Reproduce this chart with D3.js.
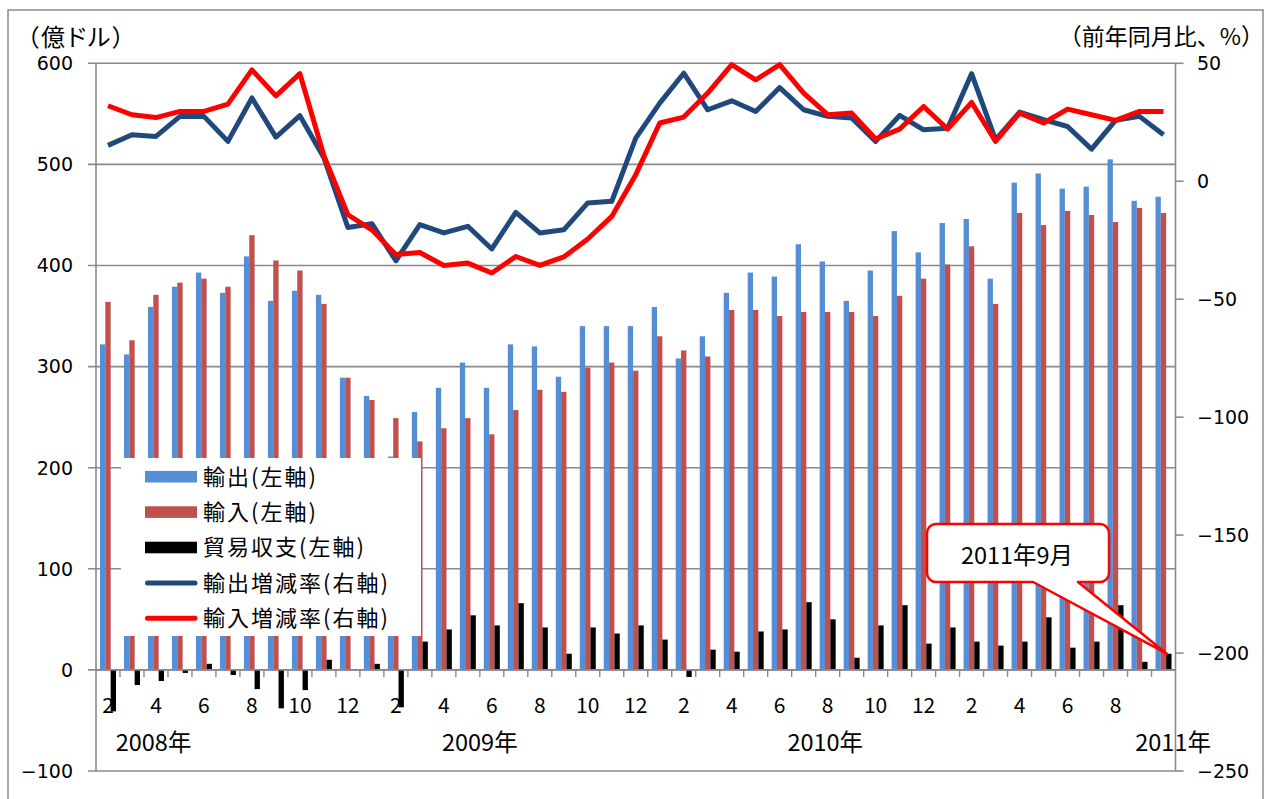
<!DOCTYPE html>
<html><head><meta charset="utf-8">
<script src="https://cdn.jsdelivr.net/npm/d3@7/dist/d3.min.js"></script>
<style>
body{margin:0;background:#fff}
svg{display:block}
text{font-family:"Noto Sans CJK JP","Noto Sans",sans-serif;fill:#000}
.num{font-family:"DejaVu Sans",sans-serif}
.palt{font-feature-settings:"palt"}
</style>
</head><body>
<svg id="c" width="1265" height="799"></svg>
<script>
// ---------------- data ----------------
const months = ["2008-01","2008-02","2008-03","2008-04","2008-05","2008-06","2008-07","2008-08","2008-09","2008-10","2008-11","2008-12",
"2009-01","2009-02","2009-03","2009-04","2009-05","2009-06","2009-07","2009-08","2009-09","2009-10","2009-11","2009-12",
"2010-01","2010-02","2010-03","2010-04","2010-05","2010-06","2010-07","2010-08","2010-09","2010-10","2010-11","2010-12",
"2011-01","2011-02","2011-03","2011-04","2011-05","2011-06","2011-07","2011-08","2011-09"];
const tickLabels = ["2","","4","","6","","8","","10","","12","",
"2","","4","","6","","8","","10","","12","",
"2","","4","","6","","8","","10","","12","",
"2","","4","","6","","8","",""];
const yearLabels = ["2008年","2009年","2010年","2011年"];
const exportsVal = [322,312,359,379,393,373,409,365,375,371,289,271,
211,255,279,304,279,322,320,290,340,340,340,359,
308,330,373,393,389,421,404,365,395,434,413,442,
446,387,482,491,476,478,505,464,468];
const importsVal = [364,326,371,383,387,379,430,405,395,362,289,267,
249,226,239,249,233,257,277,275,299,304,296,330,
316,310,356,356,350,354,354,354,350,370,387,401,
419,362,452,440,454,450,443,457,452];
const balanceVal = [-41,-15,-11,-3,6,-5,-19,-38,-20,10,0,6,
-37,28,40,54,44,66,42,16,42,36,44,30,
-7,20,18,38,40,67,50,12,44,64,26,42,
28,24,28,52,22,28,64,8,16];
const exportGrowth = [15.2,19.7,19.0,27.5,27.5,16.9,35.3,18.7,27.8,10.0,-19.6,-18.0,
-33.7,-18.4,-21.9,-19.1,-28.7,-13.2,-21.9,-20.6,-9.2,-8.5,18.3,33.1,
45.8,30.3,34.1,29.6,39.7,30.3,27.5,26.8,16.9,27.9,21.8,22.5,
45.6,17.6,29.3,26.1,23.2,13.6,25.8,27.5,19.7];
const importGrowth = [32.0,28.2,27.0,29.6,29.6,32.7,47.2,36.2,45.6,10.8,-14.2,-20.6,
-31.1,-30.2,-35.7,-34.7,-38.9,-31.9,-35.7,-32.1,-24.5,-14.9,2.8,24.7,
27.2,37.4,49.4,43.0,49.4,37.4,28.2,28.9,17.9,22.1,31.7,22.1,
33.4,16.9,28.9,24.7,30.6,28.2,25.8,29.6,29.6];
const leftTicks = [-100,0,100,200,300,400,500,600];
const rightTicks = [-250,-200,-150,-100,-50,0,50];
const seriesNames = ["輸出(左軸)","輸入(左軸)","貿易収支(左軸)","輸出増減率(右軸)","輸入増減率(右軸)"];
const calloutText = "2011年9月";
const leftTitle = "（億ドル）";
const rightTitle = "（前年同月比、%）";

// ---------------- layout ----------------
const L = 96, R = 1175.5, T = 63.3, B = 771;
const C = {exp:"#558ED5", imp:"#C0504D", bal:"#000000", expL:"#1F497D", impL:"#FF0000", grid:"#8a8a8a"};
const svg = d3.select("#c");

const x = d3.scaleBand().domain(months).range([L,R]).paddingInner(0.333).paddingOuter(0.1665);
const xs = d3.scaleBand().domain(["exp","imp","bal"]).range([0,x.bandwidth()]);
const yL = d3.scaleLinear().domain([-100,600]).range([B,T]);
const yR = d3.scaleLinear().domain([-250,50]).range([B,T]);
const step = x.step();
const cx = m => x(m) + x.bandwidth()/2;

// outer border
svg.append("rect").attr("x",8).attr("y",10).attr("width",1255).attr("height",800)
  .attr("fill","none").attr("stroke","#8c8c8c").attr("stroke-width",1.5);

// gridlines + left ticks
svg.append("g").selectAll("line").data(leftTicks).join("line")
  .attr("x1",L-8).attr("x2",R).attr("y1",d=>yL(d)).attr("y2",d=>yL(d))
  .attr("stroke",C.grid).attr("stroke-width",1.6);

// bars
const bars = [["exp",exportsVal],["imp",importsVal],["bal",balanceVal]];
bars.forEach(([k,vals])=>{
  svg.append("g").selectAll("rect").data(vals).join("rect")
    .attr("x",(d,i)=>x(months[i])+xs(k))
    .attr("width",xs.bandwidth())
    .attr("y",d=>Math.min(yL(d),yL(0)))
    .attr("height",d=>Math.abs(yL(d)-yL(0)))
    .attr("fill",C[k]);
});

// x axis line (at 0) and category tick marks
svg.append("line").attr("x1",L).attr("x2",R).attr("y1",yL(0)).attr("y2",yL(0))
  .attr("stroke",C.grid).attr("stroke-width",1.6);
svg.append("g").selectAll("line").data(months.slice(1)).join("line")
  .attr("x1",d=>x(d)-step*0.1665).attr("x2",d=>x(d)-step*0.1665)
  .attr("y1",yL(0)).attr("y2",yL(0)+7)
  .attr("stroke",C.grid).attr("stroke-width",1.4);

// left axis line and right axis line
svg.append("line").attr("x1",L).attr("x2",L).attr("y1",T).attr("y2",B).attr("stroke",C.grid).attr("stroke-width",1.6);
svg.append("line").attr("x1",R).attr("x2",R).attr("y1",T).attr("y2",B).attr("stroke",C.grid).attr("stroke-width",1.6);
svg.append("g").selectAll("line").data(rightTicks).join("line")
  .attr("x1",R).attr("x2",R+8).attr("y1",d=>yR(d)).attr("y2",d=>yR(d))
  .attr("stroke",C.grid).attr("stroke-width",1.6);

// lines
const lineGen = y => d3.line().x((d,i)=>cx(months[i])).y(d=>y(d));
svg.append("path").datum(exportGrowth).attr("d",lineGen(yR))
  .attr("fill","none").attr("stroke",C.expL).attr("stroke-width",5).attr("stroke-linejoin","round");
svg.append("path").datum(importGrowth).attr("d",lineGen(yR))
  .attr("fill","none").attr("stroke",C.impL).attr("stroke-width",5).attr("stroke-linejoin","round");

// axis labels
const fmt = d => (d<0?"\u2212":"") + Math.abs(d);
svg.append("g").selectAll("text").data(leftTicks).join("text")
  .attr("class","num").attr("x",73).attr("y",d=>yL(d)).attr("dy","0.36em")
  .attr("text-anchor","end").style("font-size","19px").text(fmt);
svg.append("g").selectAll("text").data(rightTicks).join("text")
  .attr("class","num").attr("x",1197).attr("y",d=>yR(d)).attr("dy","0.36em")
  .attr("text-anchor","start").style("font-size","19px").text(fmt);

svg.append("g").selectAll("text").data(tickLabels).join("text")
  .attr("x",(d,i)=>cx(months[i])).attr("y",705).attr("dy","0.36em")
  .attr("text-anchor","middle").style("font-size","21px").text(d=>d);

const yearAnchor = [1.9, 15.5, 29.9, 44.4];
svg.append("g").selectAll("text").data(yearLabels).join("text")
  .attr("x",(d,i)=>L + step*(yearAnchor[i]+0.5)).attr("y",743).attr("dy","0.36em")
  .attr("text-anchor","middle").style("font-size","23.5px").text(d=>d);

// titles
svg.append("text").attr("class","palt").attr("x",27).attr("y",37).attr("dy","0.36em")
  .style("font-size","24px").style("letter-spacing","2px").text(leftTitle);
svg.append("text").attr("x",1264).attr("y",37).attr("dy","0.36em")
  .attr("text-anchor","end").style("font-size","23px").text(rightTitle);

// legend
const lg = svg.append("g");
lg.append("rect").attr("x",121).attr("y",458).attr("width",300).attr("height",178).attr("fill","#fff");
const rowY = i => 476.7 + i*35.4;
const legendKinds = ["exp","imp","bal","expL","impL"];
legendKinds.forEach((k,i)=>{
  if(i<3){
    lg.append("rect").attr("x",145).attr("y",rowY(i)-5.8).attr("width",52).attr("height",11.6).attr("fill",C[k]);
  } else {
    lg.append("line").attr("x1",147.5).attr("x2",195).attr("y1",rowY(i)).attr("y2",rowY(i))
      .attr("stroke",C[k]).attr("stroke-width",5).attr("stroke-linecap","round");
  }
  lg.append("text").attr("x",203).attr("y",rowY(i)).attr("dy","0.36em")
    .style("font-size","22px").style("letter-spacing","2px").text(seriesNames[i]);
});

// callout
const last = months.length-1;
const tipX = x(months[last]) + xs("bal") + xs.bandwidth()/2 - 2;
const tipY = yL(balanceVal[last]);
const bx0 = 927, bx1 = 1109, by0 = 524, by1 = 582, r = 9;
const p = d3.path();
p.moveTo(bx0+r,by0);
p.lineTo(bx1-r,by0); p.arcTo(bx1,by0,bx1,by0+r,r);
p.lineTo(bx1,by1-r); p.arcTo(bx1,by1,bx1-r,by1,r);
p.lineTo(1078,by1); p.lineTo(tipX,tipY); p.lineTo(1033,by1);
p.lineTo(bx0+r,by1); p.arcTo(bx0,by1,bx0,by1-r,r);
p.lineTo(bx0,by0+r); p.arcTo(bx0,by0,bx0+r,by0,r);
p.closePath();
svg.append("path").attr("d",p.toString()).attr("fill","#fff").attr("stroke","#FF0000").attr("stroke-width",2.5).attr("stroke-linejoin","round");
svg.append("text").attr("x",1017).attr("y",556).attr("dy","0.36em").attr("text-anchor","middle")
  .style("font-size","23.5px").text(calloutText);
</script>
</body></html>
